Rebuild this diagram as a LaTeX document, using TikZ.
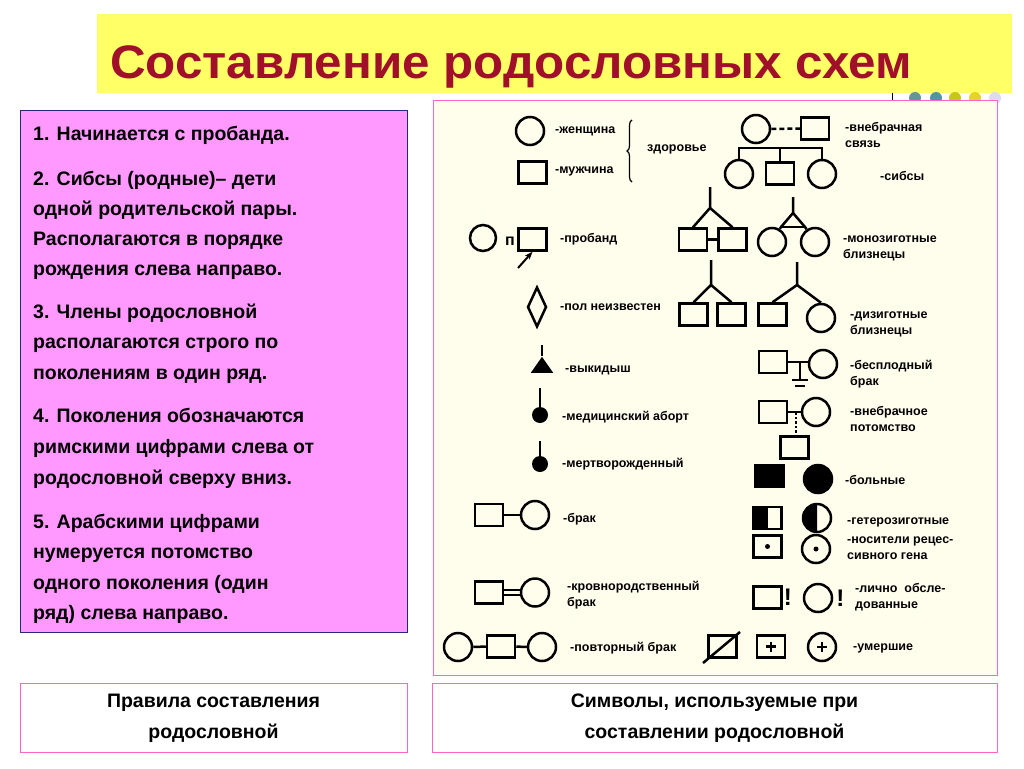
\documentclass[tikz,border=0pt]{standalone}
\usepackage{fontspec}
\setmainfont{Liberation Sans}
\usetikzlibrary{arrows.meta,decorations.pathreplacing,shapes.geometric}
\definecolor{titred}{RGB}{160,16,42}
\definecolor{ttyel}{RGB}{255,255,102}
\definecolor{lpink}{RGB}{255,153,255}
\definecolor{navy}{RGB}{40,40,120}
\definecolor{pborder}{RGB}{255,100,200}
\definecolor{cream}{RGB}{255,253,236}
\definecolor{d1}{RGB}{100,150,150}
\definecolor{d2}{RGB}{80,150,160}
\definecolor{d3}{RGB}{200,200,20}
\definecolor{d4}{RGB}{230,210,40}
\definecolor{d5}{RGB}{220,220,235}
\begin{document}
\begin{tikzpicture}[x=1pt,y=-1pt,
  sym/.style={line width=2.5pt},
  sq/.style={draw,line width=2.5pt,minimum width=28pt,minimum height=22pt,inner sep=0pt},
  ci/.style={draw,circle,line width=2.5pt,minimum size=28pt,inner sep=0pt},
  lab/.style={anchor=west,align=left,font=\fontsize{12.5}{16}\selectfont\bfseries,inner sep=0pt},
  rule/.style={anchor=base west,font=\fontsize{19.5}{24}\selectfont\bfseries,inner sep=0pt},
  capbox/.style={align=center,font=\fontsize{19.5}{31}\selectfont\bfseries}]
\useasboundingbox (0,0) rectangle (1024,768);
\fill[white] (0,0) rectangle (1024,768);
% title
\fill[ttyel] (97,14) rectangle (1012,93);
\node[anchor=base west,text=titred,font=\fontsize{47}{50}\selectfont\bfseries,inner sep=0pt,xscale=1.05] (title) at (110,78) {Составление родословных схем};
\draw[line width=1pt] (892,93) -- (892,101);
\foreach \xx/\cc in {915/d1,936/d2,955/d3,975/d4,995/d5}{\fill[\cc] (\xx,98) circle[radius=6pt];}
% left box
\draw[fill=lpink,draw=navy,line width=1pt] (20,110) rectangle (407,632);
\foreach \yy/\tt in {140/{1. Начинается с пробанда.},
 185/{2. Сибсы (родные)– дети},215/{одной родительской пары.},245/{Располагаются в порядке},275/{рождения слева направо.},
 318/{3. Члены родословной},348/{располагаются строго по},379/{поколениям в один ряд.},
 422/{4. Поколения обозначаются},453/{римскими цифрами слева от},484/{родословной сверху вниз.},
 528/{5. Арабскими цифрами},558/{нумеруется потомство},589/{одного поколения (один},619/{ряд) слева направо.}}
 {\node[rule] at (33,\yy) {\tt};}
% right panel
\draw[fill=cream,draw=pborder,line width=1pt] (433,100) rectangle (997,675);
% bottom captions
\draw[draw=pborder,line width=1pt] (20,683) rectangle (407,752);
\node[capbox] (c1) at (213.5,718) {Правила составления\\родословной};
\draw[draw=pborder,line width=1pt] (432,683) rectangle (997,752);
\node[capbox] (c2) at (714.5,718) {Символы, используемые при\\составлении родословной};
% --- left column symbols
\node[ci] (w) at (530,131) {};
\node[lab] at (555,131) {-женщина};
\node[sq] (m) at (532.5,172.5) {};
\node[lab] at (555,171) {-мужчина};
\draw[line width=1.2pt,decorate,decoration={brace,amplitude=5pt,mirror}] (632,120) -- (632,182);
\node[lab] at (647,149) {здоровье};
\node[ci,minimum size=26pt] (pc) at (483,238) {};
\node[anchor=center,font=\fontsize{16}{16}\selectfont\bfseries,inner sep=0pt] (pp) at (510,241) {п};
\node[sq] (ps) at (532.5,239.5) {};
\coordinate (pa) at (518,268);
\draw[line width=2pt,-{Stealth[length=8pt]}] (pa) -- (ps.south);
\node[lab] at (560,239) {-пробанд};
\node[draw,diamond,line width=2.5pt,minimum width=19pt,minimum height=40pt,inner sep=0pt,aspect=0.5] (dia) at (537,307) {};
\node[lab] at (560,307) {-пол неизвестен};
\node[fill,isosceles triangle,isosceles triangle apex angle=70,shape border rotate=90,minimum height=16pt,inner sep=0pt] (tri) at (542,367) {};
\coordinate (trt) at (542,345);
\draw[sym] (trt) -- (tri.apex);
\node[lab] at (565,370) {-выкидыш};
\node[fill,circle,minimum size=16pt,inner sep=0pt] (ab) at (540,415) {};
\coordinate (abt) at (540,388);
\draw[sym] (abt) -- (ab);
\node[lab] at (562,417) {-медицинский аборт};
\node[fill,circle,minimum size=16pt,inner sep=0pt] (sb) at (540,464) {};
\coordinate (sbt) at (540,441);
\draw[sym] (sbt) -- (sb);
\node[lab] at (562,464) {-мертворожденный};
\node[sq] (bm) at (489,515) {};
\node[ci] (bw) at (535,515) {};
\draw[sym] (bm) -- (bw);
\node[lab] at (563,519) {-брак};
\node[sq] (km) at (489,592.5) {};
\node[ci] (kw) at (535,592.5) {};
\draw[line width=1.8pt] ([yshift=-2.8pt]km.east) -- ([yshift=-2.8pt]kw.west);
\draw[line width=1.8pt] ([yshift=2.8pt]km.east) -- ([yshift=2.8pt]kw.west);
\node[lab,align=left] at (567,595) {-кровнородственный\\брак};
\node[ci] (r1) at (458,647) {};
\node[sq] (r2) at (501,646.5) {};
\node[ci] (r3) at (542,647) {};
\draw[sym] (r1) -- (r2) -- (r3);
\node[lab] at (570,648) {-повторный брак};
% --- right column
\node[ci] (ec) at (756,129) {};
\node[sq] (es) at (815,128.5) {};
\draw[sym,dashed,dash pattern=on 5pt off 3pt] (ec) -- (es);
\node[lab] at (845,135) {-внебрачная\\связь};
\node[ci] (s1) at (739,174) {};
\node[sq] (s2) at (780,173.5) {};
\node[ci] (s3) at (822,174) {};
\coordinate (sl) at (739,148); \coordinate (sr) at (822,148); \coordinate (smid) at (780,148);
\draw[sym] (s1.north) -- (sl) -- (sr) -- (s3.north);
\draw[sym] (smid) -- (s2.north);
\node[lab] at (880,176) {-сибсы};
% mono boys
\node[sq] (mb1) at (693,239.5) {};
\node[sq] (mb2) at (732.5,239.5) {};
\coordinate (mbt) at (710,187); \coordinate (mbj) at (710,208);
\draw[sym] (mbt) -- (mbj) -- (mb1.north); \draw[sym] (mbj) -- (mb2.north);
\draw[sym] (mb1.east) -- (mb2.west);
% mono girls
\node[ci] (mg1) at (772,242) {};
\node[ci] (mg2) at (815,242) {};
\coordinate (mgt) at (793,197); \coordinate (mgj) at (793,213);
\coordinate (mgl) at (781,227); \coordinate (mgr) at (805,227);
\draw[sym] (mgt) -- (mgj) -- (mgl) -- (mg1); \draw[sym] (mgj) -- (mgr) -- (mg2);
\draw[sym] (mgl) -- (mgr);
\node[lab] at (843,248) {-монозиготные\\близнецы};
% dizygotic
\node[sq] (db1) at (693.5,314.5) {};
\node[sq] (db2) at (731.5,314.5) {};
\coordinate (dbt) at (711,260); \coordinate (dbj) at (711,285);
\draw[sym] (dbt) -- (dbj) -- (db1.north); \draw[sym] (dbj) -- (db2.north);
\node[sq] (dm1) at (772.5,314.5) {};
\node[ci] (dm2) at (821,318) {};
\coordinate (dmt) at (797,262); \coordinate (dmj) at (797,285);
\draw[sym] (dmt) -- (dmj) -- (dm1.north); \draw[sym] (dmj) -- (dm2.north);
\node[lab] at (850,324) {-дизиготные\\близнецы};
% infertile
\node[sq] (im) at (773,362) {};
\node[ci] (iw) at (823,364) {};
\draw[sym] (im) -- (im-|iw.west);
\coordinate (iv) at (800,362); \coordinate (ivb) at (800,380);
\draw[sym] (iv) -- (ivb);
\draw[line width=1.8pt] (792,380) -- (808,380);
\draw[line width=1.8pt] (795,386) -- (805,386);
\node[lab] at (850,374) {-бесплодный\\брак};
% extramarital offspring
\node[sq] (om) at (773,412) {};
\node[ci] (ow) at (816,412) {};
\draw[sym] (om) -- (ow);
\node[sq] (oc) at (794.5,447.5) {};
\coordinate (ov) at (796,412);
\draw[line width=1.8pt,dashed,dash pattern=on 2.5pt off 2pt] (ov) -- (ov|-oc.north);
\node[lab] at (850,419) {-внебрачное\\потомство};
% sick
\node[sq,fill] (sk1) at (769.5,476) {};
\node[ci,fill] (sk2) at (818,479) {};
\node[lab] at (845,480) {-больные};
% heterozygous
\fill (753,507) rectangle (767.5,529);
\node[sq] (h1) at (767.5,518) {};
\begin{scope}\clip (800,500) rectangle (817,540); \fill (817,518) circle[radius=14pt];\end{scope}
\node[ci] (h2) at (817,518) {};
\node[lab] at (847,522) {-гетерозиготные};
% carriers
\node[sq] (n1) at (767.5,546.5) {};
\fill (n1) circle[radius=2.5pt];
\node[ci] (n2) at (816,549) {};
\fill (n2) circle[radius=2.5pt];
\node[lab] at (847,548) {-носители рецес-\\сивного гена};
% examined
\node[sq] (e1) at (767.5,597.5) {};
\node[anchor=west,font=\fontsize{24}{24}\selectfont\bfseries,inner sep=0pt] (e1x) at ([xshift=1pt]e1.east) {!};
\node[ci] (e2) at (818,598) {};
\node[anchor=west,font=\fontsize{24}{24}\selectfont\bfseries,inner sep=0pt] (e2x) at ([xshift=3pt]e2.east) {!};
\node[lab] at (855,597) {-лично\ \ обсле-\\дованные};
% deceased
\node[sq] (x1) at (722.5,646.5) {};
\coordinate (xa) at (703,663); \coordinate (xb) at (740,632);
\draw[sym] (xa) -- (xb);
\node[sq] (x2) at (771,646.5) {};
\draw[line width=2.5pt] ([xshift=-5pt]x2.center) -- ([xshift=5pt]x2.center);
\draw[line width=2.5pt] ([yshift=-5pt]x2.center) -- ([yshift=5pt]x2.center);
\node[ci] (x3) at (822,647) {};
\draw[line width=2.5pt] ([xshift=-5pt]x3.center) -- ([xshift=5pt]x3.center);
\draw[line width=2.5pt] ([yshift=-5pt]x3.center) -- ([yshift=5pt]x3.center);
\node[lab] at (853,648) {-умершие};
\end{tikzpicture}
\end{document}
